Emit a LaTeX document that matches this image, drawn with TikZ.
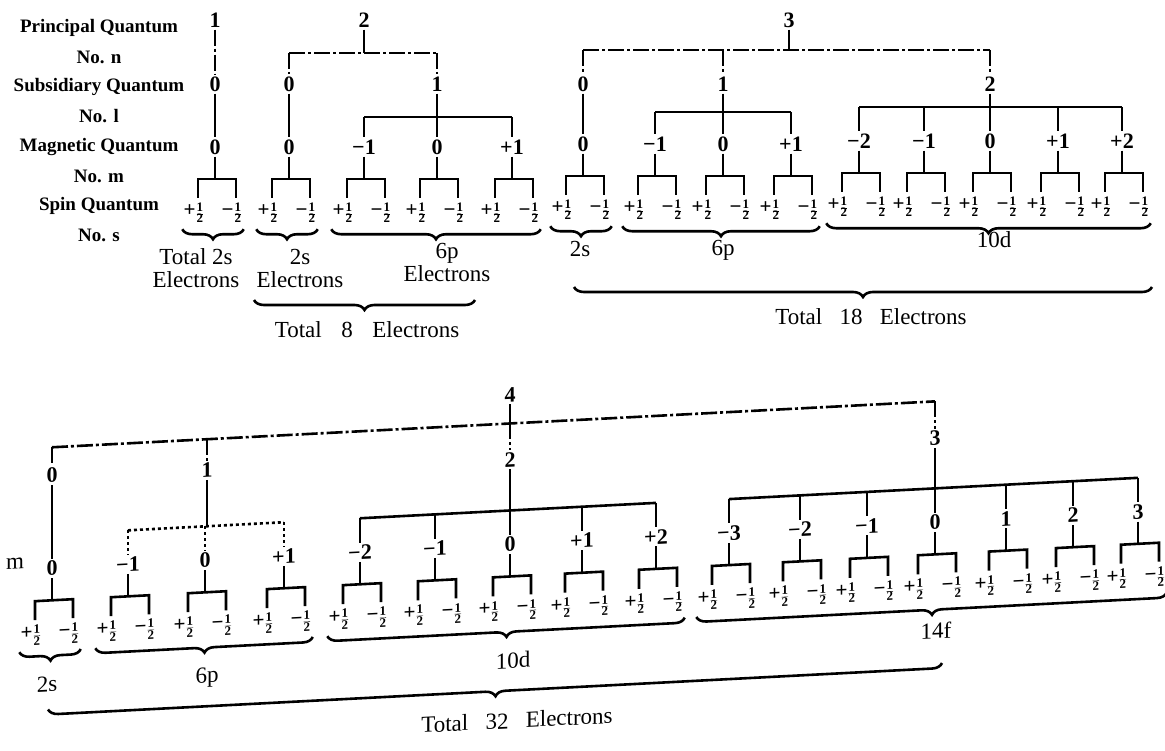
\documentclass[tikz,border=0pt]{standalone}
\usepackage{fontspec}
\setmainfont{Liberation Serif}
\usetikzlibrary{decorations.pathreplacing}

\begin{document}
\begin{tikzpicture}[x=1pt, y=-1pt, line width=2.6pt, inner sep=1pt,
    rowname/.style={font=\fontsize{19}{31}\selectfont\bfseries, align=center},
    qnum/.style={font=\fontsize{22}{22}\selectfont\bfseries},
    spin/.style={font=\fontsize{13}{13}\selectfont\bfseries\boldmath, inner sep=0pt},
    elabel/.style={font=\fontsize{23}{23}\selectfont, align=center},
    nbar/.style={dash pattern=on 16pt off 3pt on 3pt off 3pt},
    brace/.style={decorate, decoration={brace, mirror, amplitude=10pt}}]
  \useasboundingbox (0,0) rectangle (1165,751);

  \node[rowname] (nrow) at (99,42) {Principal Quantum\\No. n};
  \node[rowname] (lrow) at (99,101) {Subsidiary Quantum\\No. l};
  \node[rowname] (mrow) at (99,161) {Magnetic Quantum\\No. m};
  \node[rowname] (srow) at (99,220) {Spin Quantum\\No. s};

  \node[qnum] (n1) at (215,20) {1};
  \node[qnum] (n2) at (364,20) {2};
  \node[qnum] (n3) at (789,20) {3};
  \foreach \n/\x/\v in {l10/215/0, l20/289/0, l21/437/1, l30/583/0, l31/723/1, l32/990/2}
    \node[qnum] (\n) at (\x,84) {\v};

  \foreach \n/\x/\y/\v in {t1/215/147/0, t2/289/147/0, t3/364/147/−1, t4/437/147/0, t5/512/147/+1,
      t6/583/144/0, t7/655/144/−1, t8/723/144/0, t9/791/144/+1,
      t10/859/141/−2, t11/924/141/−1, t12/990/141/0, t13/1058/141/+1, t14/1122/141/+2}{
    \node[qnum] (\n) at (\x,\y) {\v};
    \node[spin] (\n-u) at (\x-21,\y+66) {{\fontsize{21}{21}\selectfont+}$\frac{\mbox{1}}{\mbox{2}}$};
    \node[spin] (\n-d) at (\x+17,\y+66) {{\fontsize{21}{21}\selectfont−}$\frac{\mbox{1}}{\mbox{2}}$};
    \coordinate (\n-k) at (\x,\y+32);
    \coordinate (\n-l) at (\x-17,\y+51);
    \coordinate (\n-r) at (\x+21,\y+51);
    \draw (\n) -- (\n-k);
    \draw (\n-l) |- (\n-k) -| (\n-r);
  }

  \draw[nbar] (n1) -- (l10);
  \draw (l10) -- (t1);
  \draw (l20) -- (t2);
  \draw (l30) -- (t6);
  \foreach \p/\x/\y/\a/\b/\kids/\s in
     {n2/364/53/l20/l21/{l20,l21}/nbar,
      n3/789/50/l30/l32/{l30,l31,l32}/nbar,
      l21/437/117/t3/t5/{t3,t4,t5}/solid,
      l31/723/112/t7/t9/{t7,t8,t9}/solid,
      l32/990/107/t10/t14/{t10,t11,t12,t13,t14}/solid}{
    \coordinate (k\p) at (\x,\y);
    \draw (\p) -- (k\p);
    \draw[\s] (\a |- k\p) -- (\b |- k\p);
    \foreach \c in \kids \draw[\s] (\c |- k\p) -- (\c);
  }

  \foreach \a/\b in {t1/t1, t2/t2, t3/t5, t6/t6, t7/t9, t10/t14}
    \draw[brace] ([yshift=-5pt]\a-u.south west) -- ([yshift=-5pt]\b-d.south east);

  \node[elabel] (e2s) at (196,268) {Total 2s\\Electrons};
  \node[elabel] (f2s) at (300,268) {2s\\Electrons};
  \node[elabel] (f6p) at (447,262) {6p\\Electrons};
  \node[elabel] (g2s) at (580,249) {2s};
  \node[elabel] (g6p) at (723,250) {6p};
  \node[elabel] (g10d) at (994,240) {10d};

  \coordinate (tot8a) at (254,300);
  \coordinate (tot8b) at (475,300);
  \draw[brace] (tot8a) -- (tot8b);
  \node[elabel] (tot8) at (367,330) {Total\hspace{0.6em} 8\hspace{0.6em} Electrons};
  \coordinate (tot18a) at (574,287);
  \coordinate (tot18b) at (1152,287);
  \draw[brace] (tot18a) -- (tot18b);
  \node[elabel] (tot18) at (871,317) {Total\hspace{0.5em} 18\hspace{0.5em} Electrons};

  \begin{scope}[yslant=0.052, transform shape]
    \node[elabel] (mname) at (15,564) {m};
    \node[qnum] (n4) at (510,421) {4};
    \foreach \n/\x/\y/\v in {l40/52/478/0, l41/207/481/1, l42/510/486/2, l43/935/487/3}
      \node[qnum] (\n) at (\x,\y) {\v};

    \foreach \n/\x/\y/\v in {b1/52/571/0, b2/128/571/−1, b3/205/571/0, b4/284/571/+1,
        b5/360/571/−2, b6/435/571/−1, b7/510/571/0, b8/582/571/+1, b9/656/571/+2,
        b10/729/571/−3, b11/800/571/−2, b12/867/571/−1, b13/935/571/0, b14/1006/571/1,
        b15/1073/571/2, b16/1138/571/3}{
      \node[qnum] (\n) at (\x,\y) {\v};
      \node[spin] (\n-u) at (\x-21,\y+66) {{\fontsize{21}{21}\selectfont+}$\frac{\mbox{1}}{\mbox{2}}$};
      \node[spin] (\n-d) at (\x+17,\y+66) {{\fontsize{21}{21}\selectfont−}$\frac{\mbox{1}}{\mbox{2}}$};
      \coordinate (\n-k) at (\x,\y+32);
      \coordinate (\n-l) at (\x-17,\y+51);
      \coordinate (\n-r) at (\x+21,\y+51);
      \draw (\n) -- (\n-k);
      \draw (\n-l) |- (\n-k) -| (\n-r);
    }

    \draw (l40) -- (b1);
    \foreach \p/\x/\y/\a/\b/\kids/\s in
       {n4/510/450/l40/l43/{l40,l41,l42,l43}/nbar,
        l41/207/537/b2/b4/{b2,b3,b4}/dashed,
        l42/510/537/b5/b9/{b5,b6,b7,b8,b9}/solid,
        l43/935/537/b10/b16/{b10,b11,b12,b13,b14,b15,b16}/solid}{
      \coordinate (k\p) at (\x,\y);
      \draw (\p) -- (k\p);
      \draw[\s] (\a |- k\p) -- (\b |- k\p);
      \foreach \c in \kids \draw[\s] (\c |- k\p) -- (\c);
    }

    \foreach \a/\b in {b1/b1, b2/b4, b5/b9, b10/b16}
      \draw[brace] ([yshift=-5pt]\a-u.south west) -- ([yshift=-5pt]\b-d.south east);

    \node[elabel] (h2s) at (47,687) {2s};
    \node[elabel] (h6p) at (207,688) {6p};
    \node[elabel] (h10d) at (513,687) {10d};
    \node[elabel] (h14f) at (936,679) {14f};

    \coordinate (tot32a) at (48,712);
    \coordinate (tot32b) at (942,712);
    \draw[brace] (tot32a) -- (tot32b);
    \node[elabel] (tot32) at (517,747) {Total\hspace{0.5em} 32\hspace{0.5em} Electrons};
  \end{scope}
\end{tikzpicture}
\end{document}
